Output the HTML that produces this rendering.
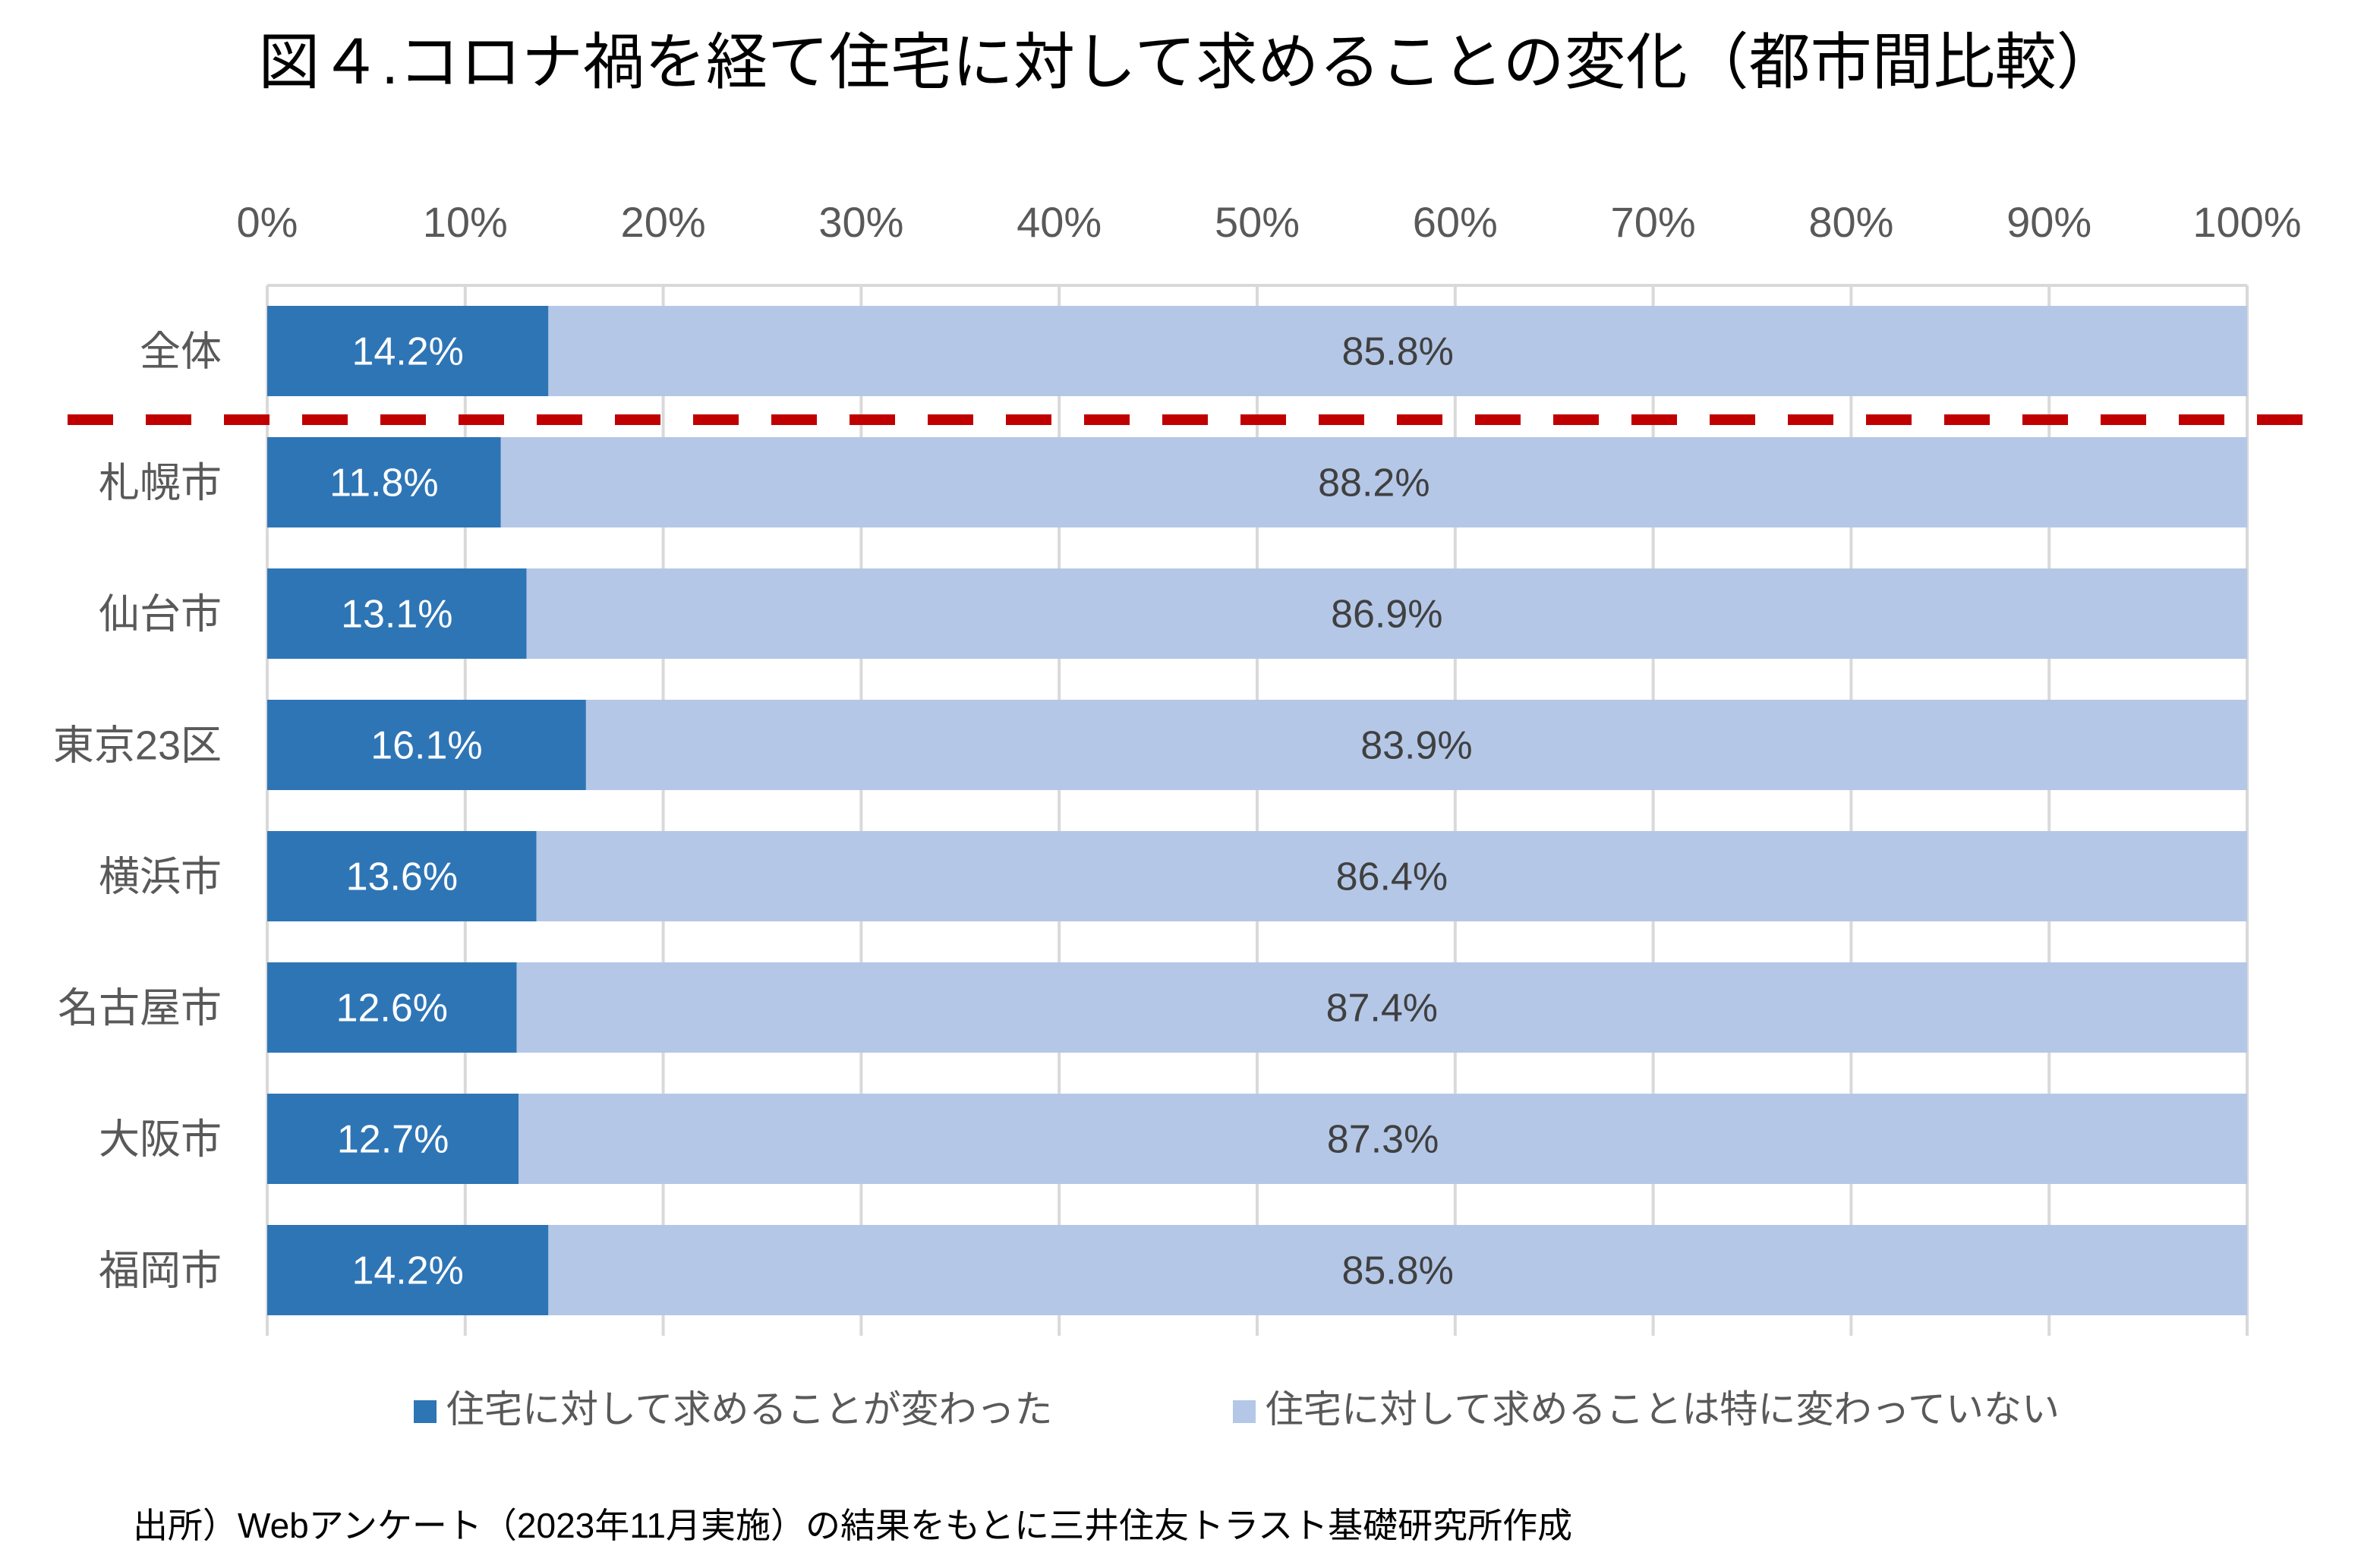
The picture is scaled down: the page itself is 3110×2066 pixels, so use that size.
<!DOCTYPE html>
<html><head><meta charset="utf-8"><style>
body{margin:0;background:#fff;}
svg{display:block;font-family:"Liberation Sans","Noto Sans CJK JP",sans-serif;}
</style></head><body>
<svg id="c" width="3110" height="2066" viewBox="0 0 3110 2066" xmlns="http://www.w3.org/2000/svg">
<text x="1565" y="110" font-size="81" text-anchor="middle" fill="#000">図４.コロナ禍を経て住宅に対して求めることの変化（都市間比較）</text>
<g id="grid"></g><g id="bars"></g>
<line x1="89" y1="553" x2="3050" y2="553" stroke="#C00000" stroke-width="14" stroke-dasharray="60 43"/>
<rect x="545" y="1845" width="30" height="30" fill="#2E75B6"/>
<text x="588" y="1874" font-size="50" fill="#595959">住宅に対して求めることが変わった</text>
<rect x="1624" y="1845" width="30" height="30" fill="#B4C7E7"/>
<text x="1667" y="1874" font-size="50" fill="#595959">住宅に対して求めることは特に変わっていない</text>
<text x="175" y="2026" font-size="46" fill="#000">出所）Webアンケート（2023年11月実施）の結果をもとに三井住友トラスト基礎研究所作成</text>
</svg>
<script>
const categories=["全体","札幌市","仙台市","東京23区","横浜市","名古屋市","大阪市","福岡市"];
const changed=[14.2,11.8,13.1,16.1,13.6,12.6,12.7,14.2];
const unchanged=[85.8,88.2,86.9,83.9,86.4,87.4,87.3,85.8];
const ticks=[0,10,20,30,40,50,60,70,80,90,100];
const NS="http://www.w3.org/2000/svg";
const X0=352,X1=2960,Y0=376,BAND=173,BH=119;
const xs=v=>X0+(X1-X0)*v/100;
const yc=i=>Y0+BAND*(i+0.5);
const gridG=document.getElementById('grid'),barsG=document.getElementById('bars');
function mk(tag,attrs,parent,txt){const e=document.createElementNS(NS,tag);for(const k in attrs)e.setAttribute(k,attrs[k]);if(txt!==undefined)e.textContent=txt;parent.appendChild(e);return e;}
ticks.forEach(t=>{
 const l=mk('line',{x1:xs(t),x2:xs(t),y1:Y0,y2:Y0+BAND*categories.length,stroke:'#d9d9d9','stroke-width':4},gridG);
 
 
 const tx=mk('text',{x:xs(t),y:312,'font-size':56,'text-anchor':'middle',fill:'#595959'},gridG,t+'%');
 
 
});
const topLine=mk('line',{x1:X0,x2:X1,y1:Y0,y2:Y0,stroke:'#d9d9d9','stroke-width':4},gridG);


categories.forEach((c,i)=>{
 const y=yc(i)-BH/2;
 const lab=mk('text',{x:292,y:yc(i)+19,'font-size':54,'text-anchor':'end',fill:'#595959'},barsG,c);
 
 
 const a=mk('rect',{x:xs(0),y:y,width:xs(changed[i])-xs(0),height:BH,fill:'#2E75B6'},barsG);
 
 
 const b=mk('rect',{x:xs(changed[i]),y:y,width:xs(changed[i]+unchanged[i])-xs(changed[i]),height:BH,fill:'#B4C7E7'},barsG);
 
 
 const ta=mk('text',{x:(xs(0)+xs(changed[i]))/2,y:yc(i)+18,'font-size':52,'text-anchor':'middle',fill:'#fff'},barsG,changed[i].toFixed(1)+'%');
 
 
 const tb=mk('text',{x:(xs(changed[i])+xs(changed[i]+unchanged[i]))/2,y:yc(i)+18,'font-size':52,'text-anchor':'middle',fill:'#404040'},barsG,unchanged[i].toFixed(1)+'%');
 
 
});
</script>
</body></html>
